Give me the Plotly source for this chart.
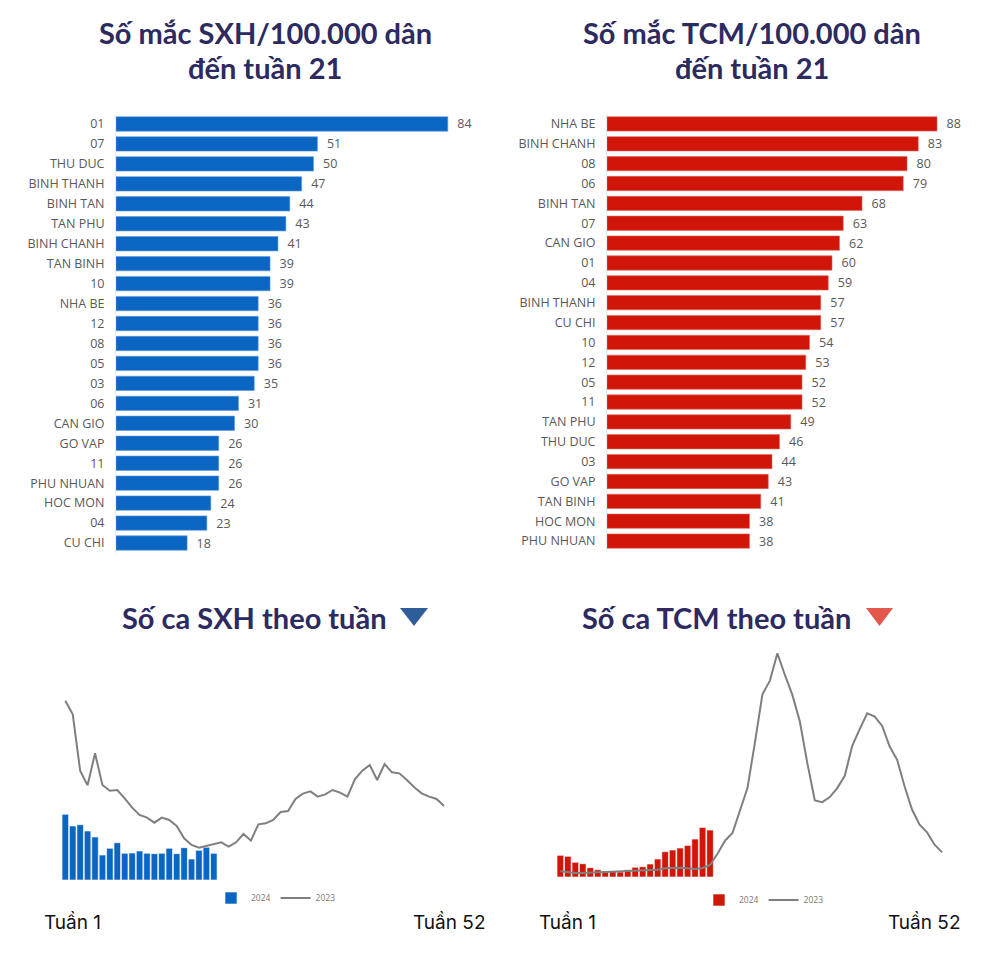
import plotly.graph_objects as go

# Số mắc /100.000 dân đến tuần 21
sxh_quan = ['01', '07', 'THU DUC', 'BINH THANH', 'BINH TAN', 'TAN PHU', 'BINH CHANH', 'TAN BINH',
            '10', 'NHA BE', '12', '08', '05', '03', '06', 'CAN GIO', 'GO VAP', '11', 'PHU NHUAN',
            'HOC MON', '04', 'CU CHI']
sxh_ty_le = [84, 51, 50, 47, 44, 43, 41, 39, 39, 36, 36, 36, 36, 35, 31, 30, 26, 26, 26, 24, 23, 18]

tcm_quan = ['NHA BE', 'BINH CHANH', '08', '06', 'BINH TAN', '07', 'CAN GIO', '01', '04', 'BINH THANH',
            'CU CHI', '10', '12', '05', '11', 'TAN PHU', 'THU DUC', '03', 'GO VAP', 'TAN BINH',
            'HOC MON', 'PHU NHUAN']
tcm_ty_le = [88, 83, 80, 79, 68, 63, 62, 60, 59, 57, 57, 54, 53, 52, 52, 49, 46, 44, 43, 41, 38, 38]

# Số ca theo tuần (ước lượng từ hình, không có trục)
tuan_2023 = list(range(1, 53))
tuan_2024 = list(range(1, 22))

sxh_2023 = [538, 497, 328, 284, 380, 285, 268, 270, 245, 217, 195, 187, 172, 187, 180, 162, 125, 105,
            97, 103, 109, 113, 100, 113, 138, 118, 167, 170, 180, 204, 207, 243, 259, 266, 250, 257,
            270, 262, 250, 302, 328, 345, 300, 348, 323, 320, 300, 278, 260, 250, 243, 222]
sxh_2024 = [197, 162, 166, 147, 129, 75, 95, 112, 80, 81, 87, 80, 79, 80, 95, 79, 97, 63, 89, 98, 80]

tcm_2023 = [17, 14, 12, 12, 12, 14, 15, 16, 16, 17, 19, 20, 19, 22, 26, 28, 28, 26, 24, 27, 36, 70,
            109, 132, 197, 267, 404, 549, 590, 672, 607, 547, 467, 342, 230, 225, 240, 267, 304, 394,
            444, 492, 482, 454, 392, 352, 272, 202, 157, 134, 97, 74]
tcm_2024 = [65, 62, 44, 40, 28, 22, 14, 17, 15, 22, 29, 31, 39, 54, 76, 81, 87, 95, 114, 149, 141]

# trang html có lề body 8px
OFF = 8
W, H = 1000 - OFF, 976 - OFF
BLUE = '#0b65c2'
RED = '#cf1609'
GRAY_LINE = '#7f7f7f'
NAVY = '#2d2a5f'
LABEL = '#595959'


def px(p):
    return (p - OFF) / W


def py(p):
    return 1 - (p - OFF) / H


fig = go.Figure()

# --- bar ngang ---
fig.add_trace(go.Bar(
    x=sxh_ty_le, y=sxh_quan, orientation='h', marker=dict(color=BLUE, line=dict(color='#5d9be0', width=0.6)),
    text=sxh_ty_le, texttemplate='\u00a0\u00a0%{x}', textposition='outside', constraintext='none',
    textfont=dict(family='Open Sans', size=12.5, color=LABEL), cliponaxis=False,
    xaxis='x', yaxis='y', showlegend=False))

fig.add_trace(go.Bar(
    x=tcm_ty_le, y=tcm_quan, orientation='h', marker=dict(color=RED, line=dict(color='#e8675c', width=0.6)),
    text=tcm_ty_le, texttemplate='\u00a0\u00a0%{x}', textposition='outside', constraintext='none',
    textfont=dict(family='Open Sans', size=12.5, color=LABEL), cliponaxis=False,
    xaxis='x2', yaxis='y2', showlegend=False))

# --- theo tuần ---
fig.add_trace(go.Bar(x=tuan_2024, y=sxh_2024, name='2024', width=0.88,
                     marker=dict(color=BLUE, line=dict(color='white', width=0.6)),
                     xaxis='x3', yaxis='y3', legend='legend'))
fig.add_trace(go.Scatter(x=tuan_2023, y=sxh_2023, name='2023', mode='lines', line=dict(color=GRAY_LINE, width=2),
                         xaxis='x3', yaxis='y3', legend='legend'))
fig.add_trace(go.Bar(x=tuan_2024, y=tcm_2024, name='2024', width=0.88,
                     marker=dict(color=RED, line=dict(color='white', width=0.6)),
                     xaxis='x4', yaxis='y4', legend='legend2'))
fig.add_trace(go.Scatter(x=tuan_2023, y=tcm_2023, name='2023', mode='lines', line=dict(color=GRAY_LINE, width=2),
                         xaxis='x4', yaxis='y4', legend='legend2'))

hidden = dict(showgrid=False, zeroline=False, showticklabels=False, showline=False, ticks='')
cat_axis = dict(autorange='reversed', showgrid=False, zeroline=False, ticks='outside', ticklen=8,
                tickcolor='rgba(0,0,0,0)', tickfont=dict(family='Open Sans', size=12.5, color=LABEL),
                showline=True, linecolor='#e4ebf3', linewidth=1)

fig.update_layout(
    width=W, height=H,
    margin=dict(l=0, r=0, t=0, b=0),
    paper_bgcolor='white', plot_bgcolor='white',
    bargap=0.28,
    font=dict(family='Open Sans', color=LABEL),
    xaxis=dict(domain=[px(116), px(116 + 95 * 3.95)], range=[0, 95], **hidden),
    yaxis=dict(domain=[py(553), py(114)], anchor='x', **cat_axis),
    xaxis2=dict(domain=[px(607), px(607 + 95 * 3.75)], range=[0, 95], anchor='y2', **hidden),
    yaxis2=dict(domain=[py(551), py(114)], anchor='x2', **cat_axis),
    xaxis3=dict(domain=[px(61.6), px(447.7)], range=[0.5, 52.5], anchor='y3', **hidden),
    yaxis3=dict(domain=[py(880), py(680)], range=[0, 600], anchor='x3', **hidden),
    xaxis4=dict(domain=[px(556.6), px(945.8)], range=[0.5, 52.5], anchor='y4', **hidden),
    yaxis4=dict(domain=[py(877), py(644)], range=[0, 700], anchor='x4', **hidden),
    legend=dict(orientation='h', x=px(276), y=py(898), xanchor='center', yanchor='middle',
                font=dict(family='Open Sans', size=8.5, color='#777777'), itemwidth=30,
                bgcolor='rgba(0,0,0,0)', traceorder='normal'),
    legend2=dict(orientation='h', x=px(764), y=py(900), xanchor='center', yanchor='middle',
                 font=dict(family='Open Sans', size=8.5, color='#777777'), itemwidth=30,
                 bgcolor='rgba(0,0,0,0)', traceorder='normal'),
)

title_font = dict(family='Lato', size=29, color=NAVY)
titles = [
    ('<b>Số mắc SXH/100.000 dân</b>', 265, 33),
    ('<b>đến tuần 21</b>', 265, 67),
    ('<b>Số mắc TCM/100.000 dân</b>', 752, 33),
    ('<b>đến tuần 21</b>', 752, 67),
    ('<b>Số ca SXH theo tuần</b>', 254, 617),
    ('<b>Số ca TCM theo tuần</b>', 716, 617),
]
for txt, x, y in titles:
    fig.add_annotation(text=txt, x=px(x), y=py(y), xref='paper', yref='paper', xanchor='center',
                       yanchor='middle', showarrow=False, font=title_font, align='center')

# tam giác chỉ xuống
fig.add_shape(type='path', xref='paper', yref='paper',
              path=f'M {px(400)} {py(608)} L {px(428)} {py(608)} L {px(414)} {py(626)} Z',
              fillcolor='#2e5d99', line=dict(width=0))
fig.add_shape(type='path', xref='paper', yref='paper',
              path=f'M {px(866)} {py(608)} L {px(893)} {py(608)} L {px(879.5)} {py(626)} Z',
              fillcolor='#e4584b', line=dict(width=0))

week_font = dict(family='Inter', size=19, color='#111111')
for x, anchor, txt in [(42, 'left', 'Tuần 1'), (487, 'right', 'Tuần 52'),
                       (537, 'left', 'Tuần 1'), (962, 'right', 'Tuần 52')]:
    fig.add_annotation(text=txt, x=px(x), y=py(922), xref='paper', yref='paper', xanchor=anchor,
                       yanchor='middle', showarrow=False, font=week_font)

fig.write_html('out.html')
